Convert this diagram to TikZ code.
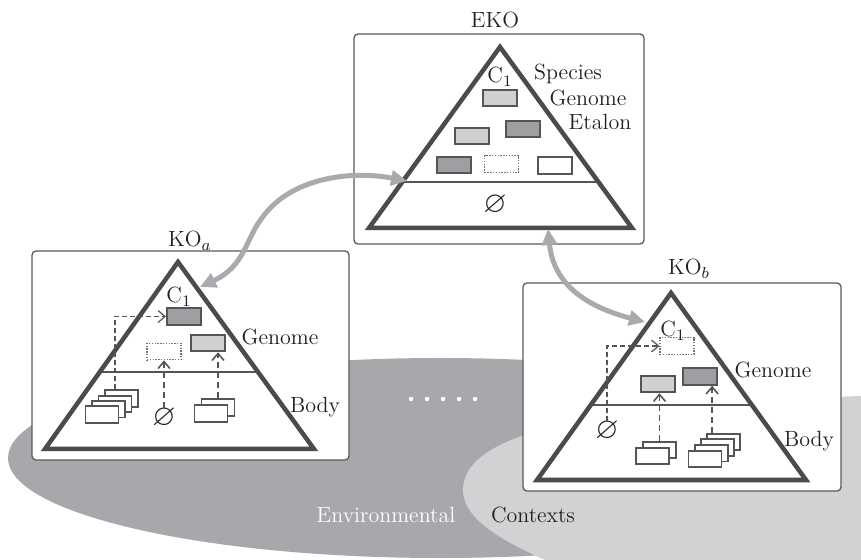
\documentclass[tikz,border=0pt]{standalone}
\usepackage{amssymb}
\usetikzlibrary{arrows.meta,calc}
\definecolor{envdark}{HTML}{A7A8AB}
\definecolor{envlight}{HTML}{D1D2D4}
\definecolor{framec}{HTML}{5A5A5A}
\definecolor{trianglec}{HTML}{4B4B4B}
\definecolor{genelight}{HTML}{D0D0D2}
\definecolor{genedark}{HTML}{9E9FA2}
\definecolor{linkc}{HTML}{A9AAAD}
\definecolor{inkc}{HTML}{555555}
\definecolor{textc}{HTML}{231F20}

\begin{document}
\begin{tikzpicture}[x=0.5pt,y=-0.5pt,
  txt/.style={inner sep=0pt, anchor=base, font=\fontsize{11}{13}\selectfont, text=textc},
  nul/.style={inner sep=0pt, font=\fontsize{15}{16}\selectfont, text=textc},
  frame/.style={draw=framec, fill=white, line width=0.65pt, rounded corners=2pt},
  tri/.style={draw=trianglec, line width=2.25pt, line join=miter},
  divider/.style={draw=inkc, line width=0.75pt},
  gene/.style={draw=inkc, line width=1pt, minimum width=17pt, minimum height=8.25pt, inner sep=0pt},
  glight/.style={gene, fill=genelight},
  gdark/.style={gene, fill=genedark},
  gwhite/.style={gene, fill=white},
  gnone/.style={gene, draw=black!55, line width=0.55pt, dash pattern=on 0.7pt off 0.7pt},
  cell/.style={draw=inkc, fill=white, line width=0.9pt, minimum width=16.5pt, minimum height=8.25pt, inner sep=0pt},
  link/.style={draw=linkc, line width=2.5pt, {Triangle[length=8pt,width=7.5pt]}-{Triangle[length=8pt,width=7.5pt]}},
  expr/.style={draw=inkc, line width=0.8pt, dash pattern=on 3pt off 2pt, -{Straight Barb[length=3.5pt,width=6pt]}},
  trace/.style={draw=inkc, line width=0.6pt, dash pattern=on 2.5pt off 1.5pt, -{Straight Barb[length=3.5pt,width=6pt]}},
]
\useasboundingbox (0,0) rectangle (861,560);

% environmental contexts in the background
\begin{scope}
  \clip (0,0) rectangle (861,560);
  \fill[envdark] (440,458) ellipse [x radius=432, y radius=100];
  \fill[envlight] (463,490) .. controls (463,440) and (560,405) .. (861,396)
     -- (875,396) -- (875,575) -- (580,575) .. controls (520,550) and (463,525) .. (463,490);
\end{scope}
\foreach \x in {411,427,443,459,475} \fill[white] (\x,399) circle [radius=2.2];
\node[txt, text=white] (envw) at (386,522) {Environmental};
\node[txt] (ctx) at (533,522) {Contexts};

% ---------- EKO ----------
\draw[frame] (354,34) rectangle (644,244);
\node[txt] (ekoT) at (495,28) {EKO};
\coordinate (eA) at (500,47);
\coordinate (eL) at (369,228);
\coordinate (eR) at (632,228);
\draw[divider] ($(eA)!0.746!(eL)$) -- ($(eA)!0.746!(eR)$);
\draw[tri] (eA) -- (eL) -- (eR) -- cycle;
\node[txt] (eC) at (500,83) {C$_1$};
\node[txt] (eSp) at (568,80) {Species};
\node[txt] (eGe) at (588,106) {Genome};
\node[txt] (eEt) at (600,130) {Etalon};
\node[glight] (e1) at (500,98) {};
\node[glight] (e2) at (472,136) {};
\node[gdark]  (e3) at (523,129) {};
\node[gdark]  (e4) at (454,165) {};
\node[gnone]  (e5) at (501.5,164) {};
\node[gwhite] (e6) at (555,165.5) {};
\node[nul] (e0) at (495,205) {$\varnothing$};

% ---------- KO_a ----------
\draw[frame] (32,251) rectangle (349,460);
\node[txt] (koaT) at (190,247) {KO$_a$};
\coordinate (aA) at (178,262);
\coordinate (aL) at (45,449);
\coordinate (aR) at (314,449);
\draw[divider] ($(aA)!0.588!(aL)$) -- ($(aA)!0.588!(aR)$);
\draw[tri] (aA) -- (aL) -- (aR) -- cycle;
\node[txt] (aC) at (179,303) {C$_1$};
\node[txt] (aGe) at (280,345) {Genome};
\node[txt] (aBo) at (315,413) {Body};
\node[gdark]  (aD) at (184,316.5) {};
\node[gnone]  (aO) at (164,351.5) {};
\node[glight] (aLt) at (207.5,343) {};
\node[nul] (aN) at (164,418) {$\varnothing$};
\foreach \i in {3,2,1,0}
  \node[cell] (aS\i) at ($(102,414.5)+(\i*6.5,-\i*5.3)$) {};
\foreach \i in {1,0}
  \node[cell] (aT\i) at ($(211,413.5)+(\i*7,-\i*6)$) {};
\draw[trace] ([xshift=-3.25pt]aS3.north) |- (aD.west);
\draw[expr] (aN.north) -- (aO.south);
\draw[expr] (aT1.north) -- (aT1.north |- aLt.south);

% ---------- KO_b ----------
\draw[frame] (523,283) rectangle (841,491);
\node[txt] (kobT) at (689,275) {KO$_b$};
\coordinate (bA) at (671,293);
\coordinate (bL) at (537,480);
\coordinate (bR) at (806,480);
\draw[divider] ($(bA)!0.599!(bL)$) -- ($(bA)!0.599!(bR)$);
\draw[tri] (bA) -- (bL) -- (bR) -- cycle;
\node[txt] (bC) at (673,337) {C$_1$};
\node[txt] (bGe) at (773,378) {Genome};
\node[txt] (bBo) at (809,447) {Body};
\node[gnone]  (bO) at (677,346) {};
\node[glight] (bLt) at (657.5,384) {};
\node[gdark]  (bD) at (700,376.5) {};
\node[nul] (bN) at (607,431) {$\varnothing$};
\foreach \i in {1,0}
  \node[cell] (bT\i) at ($(652.5,456)+(\i*7,-\i*6)$) {};
\foreach \i in {3,2,1,0}
  \node[cell] (bS\i) at ($(705,459)+(\i*6.2,-\i*5.7)$) {};
\draw[trace] (bN.north) |- (bO.west);
\draw[expr] (bT1.north) -- (bT1.north |- bLt.south);
\draw[expr] ([xshift=-5.75pt]bS3.north) -- ([xshift=-5.75pt]bS3.north |- bD.south);

% ---------- links between the organisms ----------
\coordinate (kaIn) at (200,287);
\coordinate (ekIn) at (407,181);
\coordinate (ekOut) at (548,229);
\coordinate (kbIn) at (645,322);
\draw[link] (kaIn) .. controls (245,266) and (245,240) .. (262,218)
            .. controls (290,178) and (350,170) .. (ekIn);
\draw[link] (ekOut) .. controls (553,280) and (580,305) .. (kbIn);
\end{tikzpicture}
\end{document}
